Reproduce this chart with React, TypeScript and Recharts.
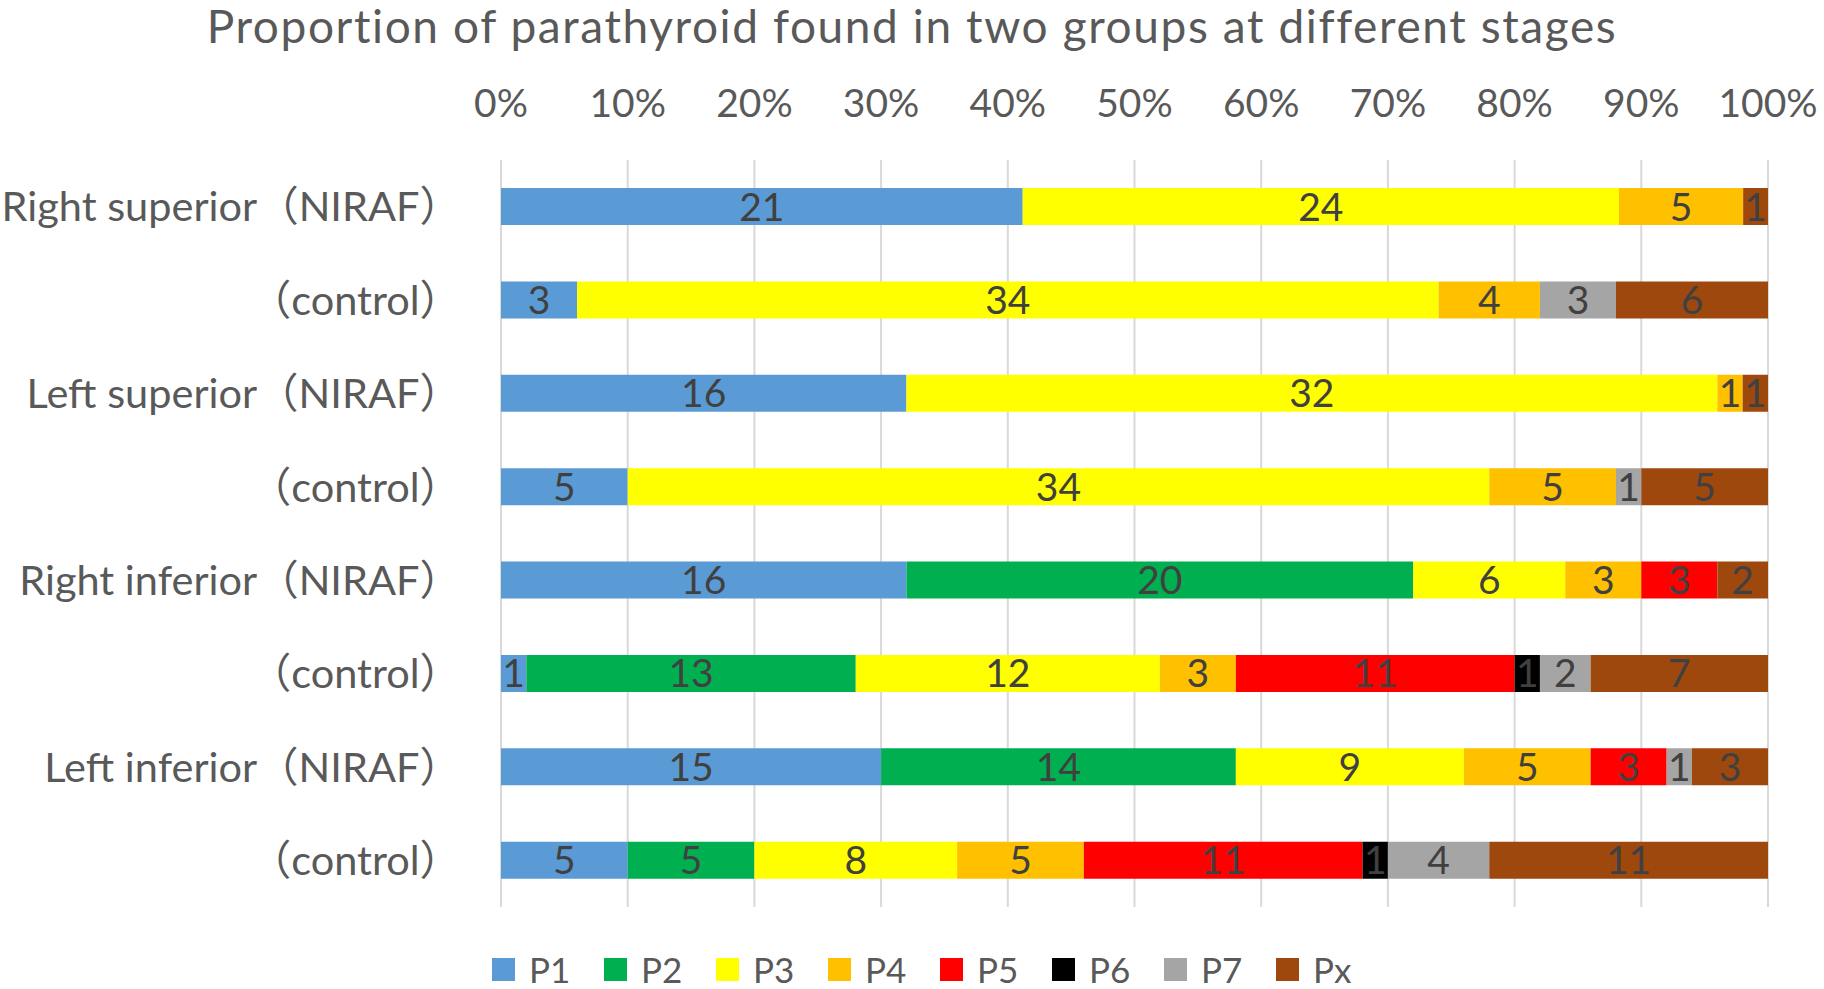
import React from 'react';
import { BarChart, Bar, XAxis, YAxis, CartesianGrid, LabelList, Legend } from 'recharts';

const FONT = "Lato, 'Noto Sans CJK SC', sans-serif";

const categories = [
  'Right superior（NIRAF）',
  '（control）',
  'Left superior（NIRAF）',
  '（control）',
  'Right inferior（NIRAF）',
  '（control）',
  'Left inferior（NIRAF）',
  '（control）',
];

const P1 = [21, 3, 16, 5, 16, 1, 15, 5];
const P2 = [0, 0, 0, 0, 20, 13, 14, 5];
const P3 = [24, 34, 32, 34, 6, 12, 9, 8];
const P4 = [5, 4, 1, 5, 3, 3, 5, 5];
const P5 = [0, 0, 0, 0, 3, 11, 3, 11];
const P6 = [0, 0, 0, 0, 0, 1, 0, 1];
const P7 = [0, 3, 0, 1, 0, 2, 1, 4];
const Px = [1, 6, 1, 5, 2, 7, 3, 11];

const seriesNames = ['P1', 'P2', 'P3', 'P4', 'P5', 'P6', 'P7', 'Px'];
const seriesValues = [P1, P2, P3, P4, P5, P6, P7, Px];
const seriesColors = ['#5B9BD5', '#00B050', '#FFFF00', '#FFC000', '#FF0000', '#000000', '#A5A5A5', '#9E480E'];

const xTicks = [0, 0.1, 0.2, 0.3, 0.4, 0.5, 0.6, 0.7, 0.8, 0.9, 1];

const data = categories.map((c, i) => {
  const row: any = { key: i, label: c };
  seriesNames.forEach((s, j) => {
    row[s] = seriesValues[j][i];
  });
  return row;
});

const renderLabel = (props: any) => {
  const { x, y, width, height, value } = props;
  if (!value) return null;
  return (
    <text
      x={Number(x) + Number(width) / 2}
      y={Number(y) + Number(height) / 2}
      dy="0.36em"
      textAnchor="middle"
      fill="#404040"
      fontSize={39}
      fontFamily={FONT}
    >
      {value}
    </text>
  );
};

const renderLegend = () => (
  <div style={{ display: 'flex', alignItems: 'center', height: 40 }}>
    {seriesNames.map((s, i) => (
      <div key={s} style={{ display: 'flex', alignItems: 'center', width: 112 }}>
        <div style={{ width: 23, height: 23, background: seriesColors[i] }} />
        <span style={{ marginLeft: 14, fontSize: 35, color: '#595959', fontFamily: FONT, lineHeight: '40px' }}>{s}</span>
      </div>
    ))}
  </div>
);

export default function App() {
  return (
    <div style={{ position: 'absolute', left: 0, top: 0, width: 1824, height: 989, background: '#fff' }}>
      <div
        style={{
          position: 'absolute',
          left: 0,
          top: 0,
          width: 1824,
          textAlign: 'center',
          fontFamily: FONT,
          fontSize: 46,
          letterSpacing: '1.6px',
          color: '#595959',
          lineHeight: '52px',
        }}
      >
        Proportion of parathyroid found in two groups at different stages
      </div>
      <BarChart
        width={1824}
        height={989}
        data={data}
        layout="vertical"
        stackOffset="expand"
        barCategoryGap="30%"
        margin={{ top: 100, right: 56, bottom: 82, left: 0 }}
      >
        <CartesianGrid horizontal={false} vertical={true} stroke="#D9D9D9" strokeWidth={2} />
        <XAxis
          type="number"
          orientation="top"
          domain={[0, 1]}
          ticks={xTicks}
          tickFormatter={(v: number) => `${Math.round(v * 100)}%`}
          axisLine={false}
          tickLine={false}
          tickSize={0}
          tickMargin={43}
          height={60}
          tick={{ fill: '#595959', fontSize: 39, fontFamily: FONT }}
          interval={0}
        />
        <YAxis
          type="category"
          dataKey="key"
          tickFormatter={(v: number) => categories[v]}
          width={501}
          axisLine={false}
          tickLine={false}
          tickSize={0}
          tickMargin={40}
          interval={0}
          tick={{ fill: '#595959', fontSize: 41.5, fontFamily: FONT }}
        />
        {seriesNames.map((s, i) => (
          <Bar key={s} dataKey={s} stackId="a" fill={seriesColors[i]} isAnimationActive={false}>
            <LabelList dataKey={s} content={renderLabel} />
          </Bar>
        ))}
        <Legend
          verticalAlign="middle"
          align="center"
          content={renderLegend}
          wrapperStyle={{ top: 949, left: 492, width: 1000, height: 40 }}
        />
      </BarChart>
    </div>
  );
}
